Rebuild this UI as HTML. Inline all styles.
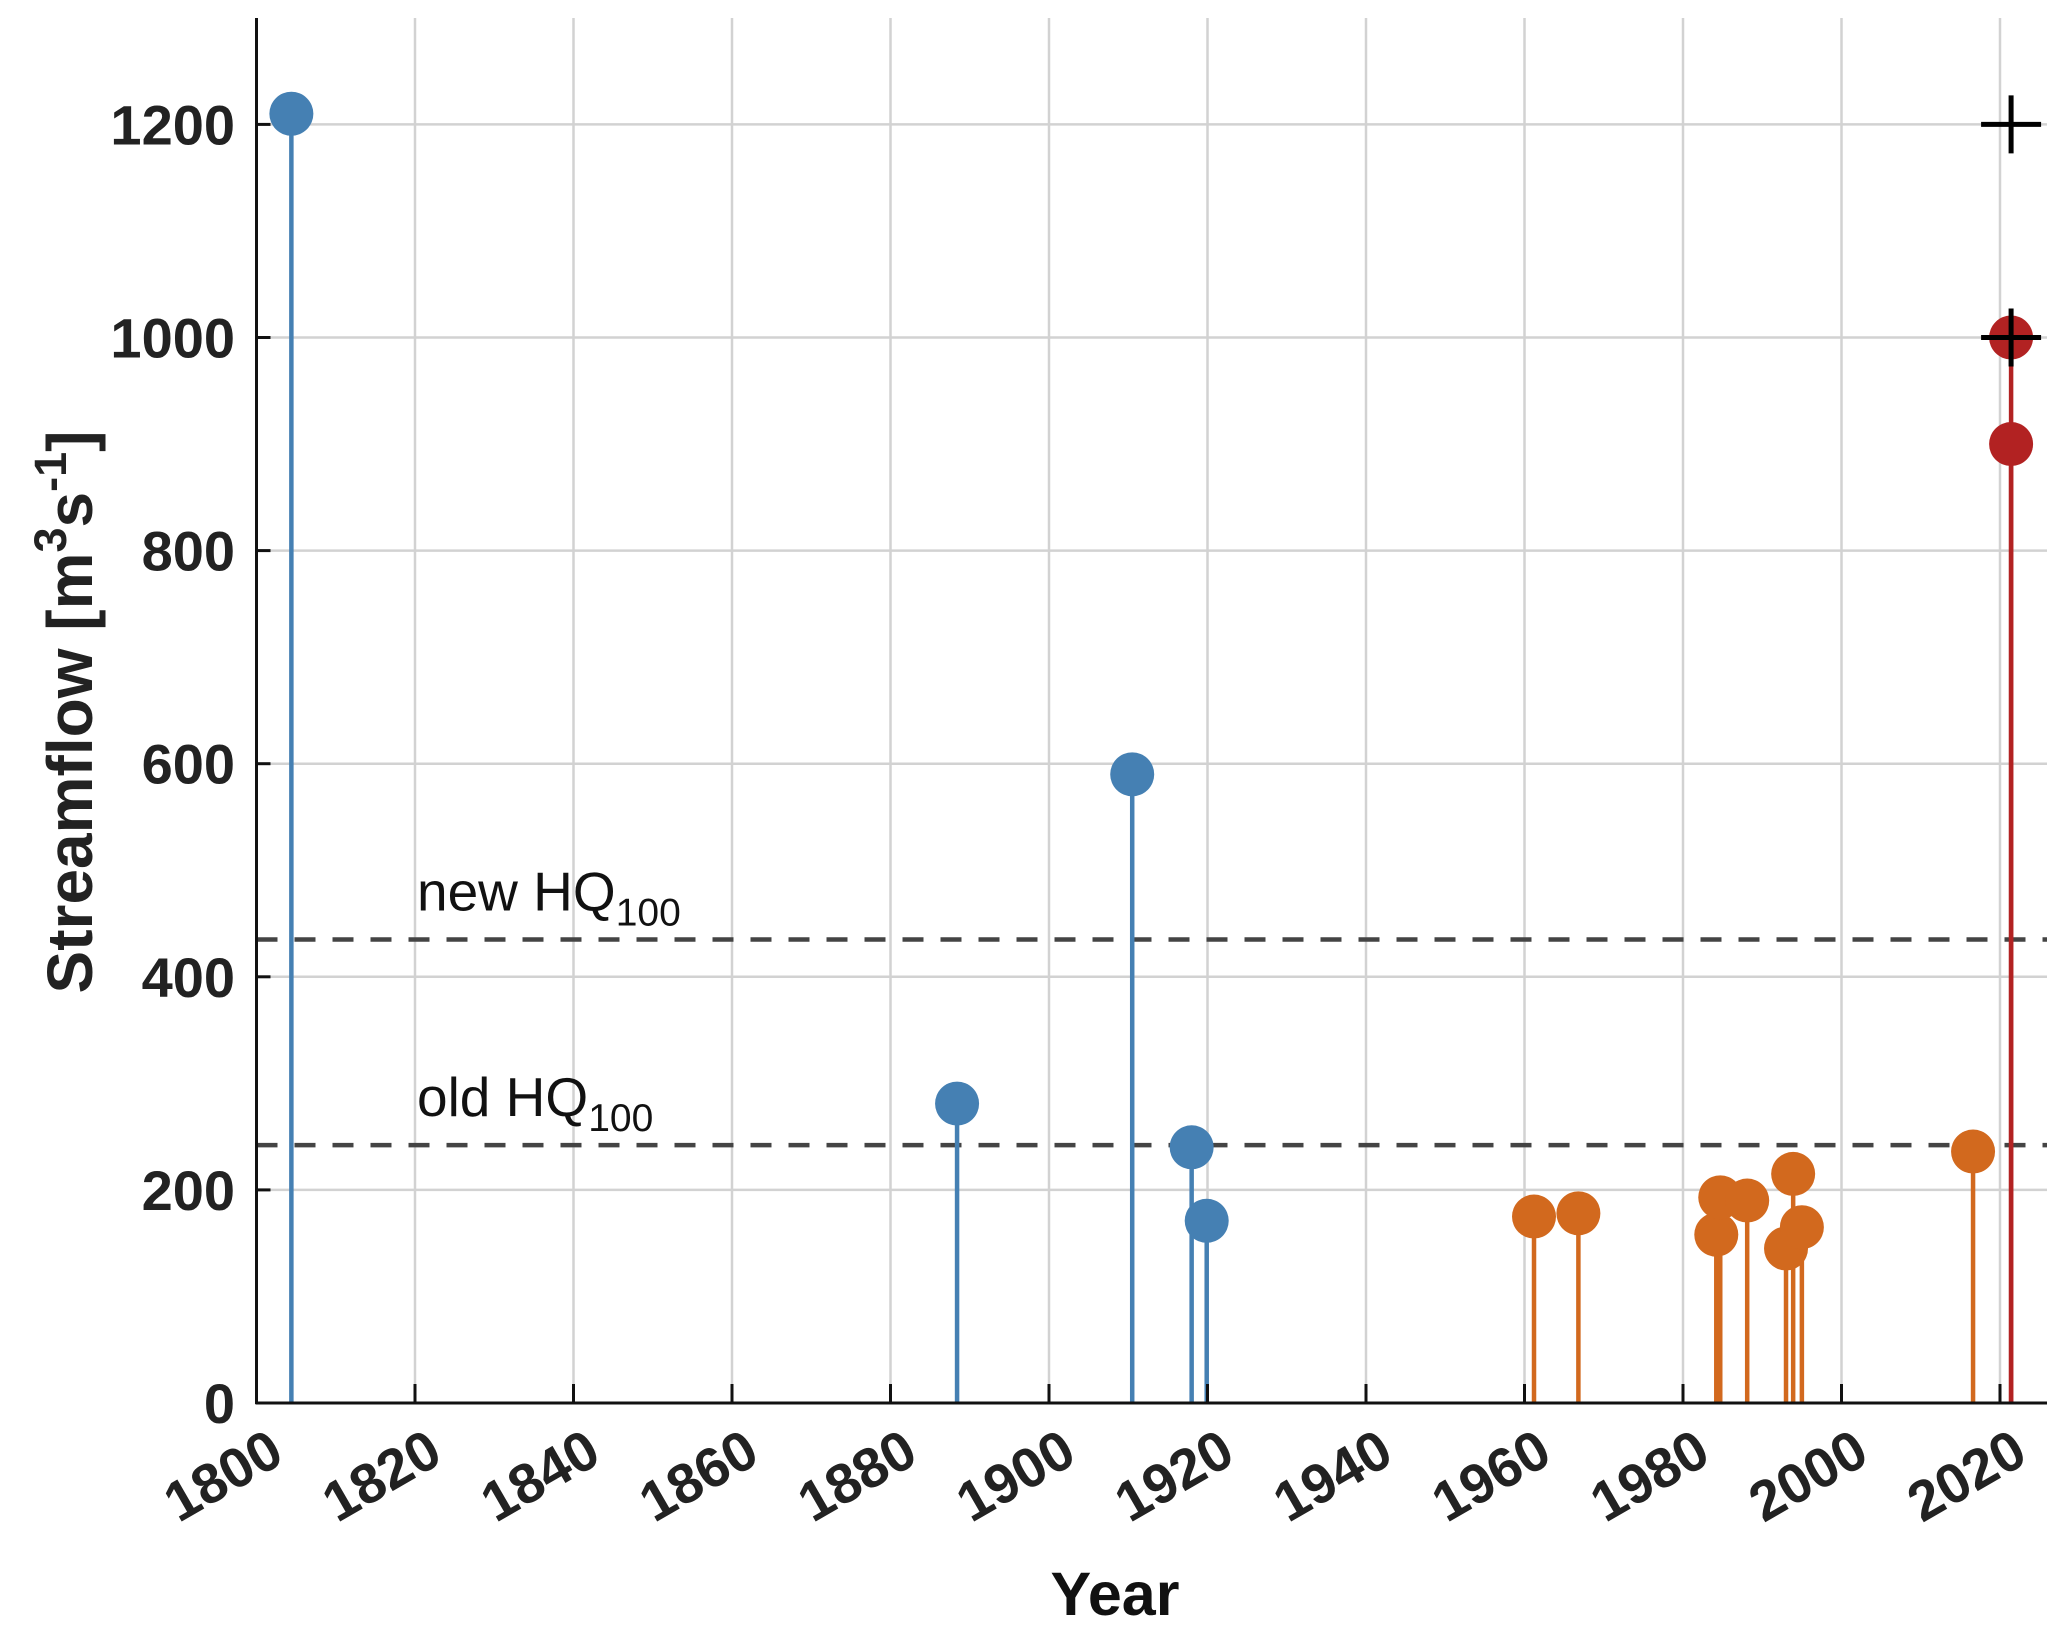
<!DOCTYPE html>
<html><head><meta charset="utf-8"><style>
html,body{margin:0;padding:0;background:#fff;}
svg{display:block;font-family:"Liberation Sans",sans-serif;}
</style></head><body>
<svg id="chart" width="2067" height="1635" viewBox="0 0 2067 1635">
<g id="grid"></g>
<g id="refs"></g>
<g id="marks"></g>
<g id="axes"></g>
</svg>
<script>
const xTicks = [1800,1820,1840,1860,1880,1900,1920,1940,1960,1980,2000,2020];
const yTicks = [0,200,400,600,800,1000,1200];
const histYears = [1804.4,1888.4,1910.5,1918.0,1919.9];
const histValues = [1210,281,590,240,171];
const gaugeYears = [1961.2,1966.8,1984.2,1984.7,1988.1,1993.0,1993.9,1995.0,2016.6];
const gaugeValues = [175,178,158,193,190,145,215,165,236];
const floodYears = [2021.4,2021.4];
const floodValues = [1000,900];
const plusYears = [2021.4,2021.4];
const plusValues = [1200,1000];
const refValues = [435,242];
const refLabels = ["new HQ","old HQ"];

const NS="http://www.w3.org/2000/svg";
const X0=256.5, XS=7.925, Y0=1403, YS=1.0655;
const xs=v=>X0+(v-1800)*XS, ys=v=>Y0-v*YS;
const RIGHT=2047, TOP=18;
function mk(p,tag,at){const e=document.createElementNS(NS,tag);for(const k in at)e.setAttribute(k,at[k]);p.appendChild(e);return e;}
const grid=document.getElementById('grid'),refs=document.getElementById('refs'),marks=document.getElementById('marks'),axes=document.getElementById('axes');

xTicks.forEach(t=>{if(t===1800)return;const l=mk(grid,'line',{x1:xs(t),x2:xs(t),y1:TOP,y2:Y0,stroke:'#d2d2d2','stroke-width':2.5});

});
yTicks.forEach(t=>{if(t===0)return;const l=mk(grid,'line',{x1:X0,x2:RIGHT,y1:ys(t),y2:ys(t),stroke:'#d2d2d2','stroke-width':2.5});

});

refValues.forEach((v,i)=>{
const l=mk(refs,'line',{x1:X0,x2:RIGHT,y1:ys(v),y2:ys(v),stroke:'#444','stroke-width':4.5,'stroke-dasharray':'21 17'});


const t=mk(refs,'text',{x:417,y:ys(v)-29,'font-size':55,fill:'#111'});


t.textContent=refLabels[i];
const s=mk(t,'tspan',{'font-size':39,dy:15});s.textContent='100';
});

function stems(years,vals,color,name){
years.forEach((yr,i)=>{const x=xs(yr);
const l=mk(marks,'line',{x1:x,x2:x,y1:Y0,y2:ys(vals[i]),stroke:color,'stroke-width':4.5});

});
years.forEach((yr,i)=>{
const c=mk(marks,'circle',{cx:xs(yr),cy:ys(vals[i]),r:22,fill:color});

});
}
stems(histYears,histValues,'#4580b3','historical-flood');
stems(gaugeYears,gaugeValues,'#d2691e','gauged-flood');
stems(floodYears,floodValues,'#b22222','flood-2021');
plusYears.forEach((yr,i)=>{const x=xs(yr),y=ys(plusValues[i]);
const p=mk(marks,'path',{d:`M${x-30} ${y}H${x+30}M${x} ${y-29}V${y+29}`,stroke:'#000','stroke-width':5,fill:'none'});

});

const ya=mk(axes,'line',{x1:X0,x2:X0,y1:TOP,y2:Y0+1,stroke:'#111','stroke-width':3});


const xa=mk(axes,'line',{x1:X0-1,x2:RIGHT,y1:Y0,y2:Y0,stroke:'#111','stroke-width':3});


yTicks.forEach(t=>{
const k=mk(axes,'line',{x1:X0,x2:X0+14,y1:ys(t),y2:ys(t),stroke:'#111','stroke-width':3});


const tx=mk(axes,'text',{x:235,y:ys(t)+20,'font-size':56,'font-weight':'bold','text-anchor':'end',fill:'#222'});


tx.textContent=t;});
xTicks.forEach(t=>{
const k=mk(axes,'line',{x1:xs(t),x2:xs(t),y1:Y0,y2:Y0-19,stroke:'#111','stroke-width':3});


const tx=mk(axes,'text',{x:0,y:0,'font-size':56,'font-weight':'bold','text-anchor':'end',fill:'#222',transform:`translate(${xs(t)+30},${Y0+58}) rotate(-30)`});


tx.textContent=t;});
const xt=mk(axes,'text',{x:1115,y:1615,'font-size':61,'font-weight':'bold','text-anchor':'middle',fill:'#111'});


xt.textContent='Year';
const yt=mk(axes,'text',{x:0,y:0,'font-size':64,'font-weight':'bold','text-anchor':'middle',fill:'#222',transform:'translate(92,712) rotate(-90)'});


yt.textContent='Streamflow [m';
let s1=mk(yt,'tspan',{'font-size':45,dy:-26});s1.textContent='3';
let s2=mk(yt,'tspan',{dy:26});s2.textContent='s';
let s3=mk(yt,'tspan',{'font-size':45,dy:-26});s3.textContent='-1';
let s4=mk(yt,'tspan',{dy:26});s4.textContent=']';
</script>
</body></html>
